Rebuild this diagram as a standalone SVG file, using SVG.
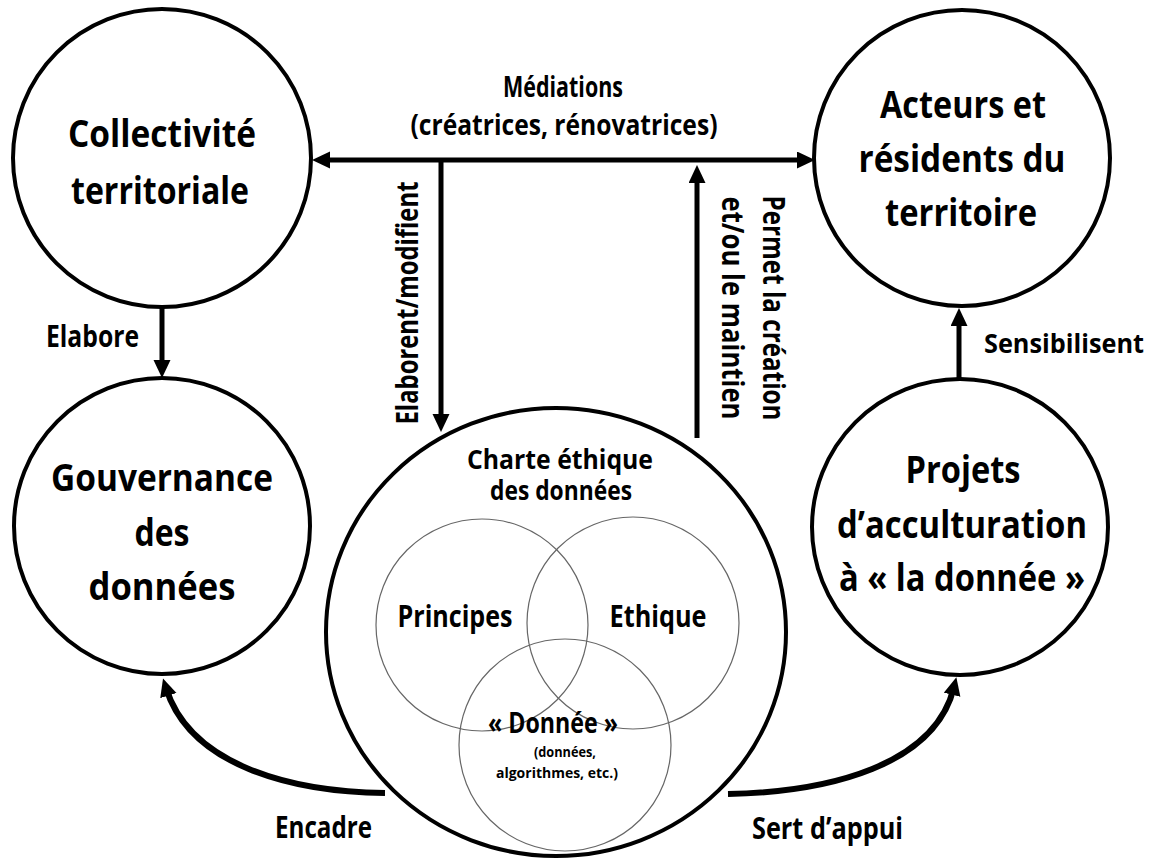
<svg xmlns="http://www.w3.org/2000/svg" width="1158" height="858" viewBox="0 0 1158 858">
<style>
.node{fill:#fff;stroke:#000;stroke-width:4}
.venn{fill:none;stroke:#666;stroke-width:1.2}
.t{font-family:'Open Sans','DejaVu Sans Condensed','DejaVu Sans',sans-serif;font-weight:bold;fill:#000;text-anchor:middle}
.big{font-size:37px}
.lab{font-size:30px}
.mid{font-size:28px}
.ch{font-size:26px}
.sm{font-size:15px}
.st{text-anchor:start}
.line{fill:none;stroke:#000;stroke-width:5}
.curve{fill:none;stroke:#000;stroke-width:6}
</style>
<defs>
<marker id="ah" markerUnits="userSpaceOnUse" markerWidth="20" markerHeight="18" refX="8" refY="8.5" orient="auto-start-reverse" viewBox="0 0 20 18">
<path d="M0,0 L18,8.5 L0,17 z" fill="#000"/>
</marker>
</defs>
<rect width="1158" height="858" fill="#fff"/>
<g id="collectivite">
<circle class="node" cx="162" cy="158" r="149"/>
<text class="t big" x="162" y="147" textLength="188" lengthAdjust="spacingAndGlyphs">Collectivité</text>
<text class="t big" x="160" y="204" textLength="178" lengthAdjust="spacingAndGlyphs">territoriale</text>
</g>
<g id="acteurs">
<circle class="node" cx="962" cy="158" r="148"/>
<text class="t big" x="963" y="118" textLength="166" lengthAdjust="spacingAndGlyphs">Acteurs et</text>
<text class="t big" x="962" y="172" textLength="207" lengthAdjust="spacingAndGlyphs">résidents du</text>
<text class="t big" x="961" y="226" textLength="152" lengthAdjust="spacingAndGlyphs">territoire</text>
</g>
<g id="gouvernance">
<circle class="node" cx="162" cy="526" r="148"/>
<text class="t big" x="162" y="491" textLength="222" lengthAdjust="spacingAndGlyphs">Gouvernance</text>
<text class="t big" x="162" y="546" textLength="55" lengthAdjust="spacingAndGlyphs">des</text>
<text class="t big" x="162" y="600" textLength="147" lengthAdjust="spacingAndGlyphs">données</text>
</g>
<g id="projets">
<circle class="node" cx="960" cy="527" r="148"/>
<text class="t big" x="963" y="483" textLength="115" lengthAdjust="spacingAndGlyphs">Projets</text>
<text class="t big" x="962" y="538" textLength="250" lengthAdjust="spacingAndGlyphs">d’acculturation</text>
<text class="t big" x="962" y="591" textLength="246" lengthAdjust="spacingAndGlyphs">à « la donnée »</text>
</g>
<g id="charte">
<ellipse class="node" cx="556" cy="632" rx="230" ry="224"/>
<text class="t ch" x="560" y="469" textLength="186" lengthAdjust="spacingAndGlyphs">Charte éthique</text>
<text class="t ch" x="561" y="500" textLength="142" lengthAdjust="spacingAndGlyphs">des données</text>
<g id="principes">
<circle class="venn" cx="482" cy="625" r="106"/>
<text class="t lab" x="455" y="627" textLength="115" lengthAdjust="spacingAndGlyphs">Principes</text>
</g>
<g id="ethique">
<circle class="venn" cx="633" cy="623" r="106"/>
<text class="t lab" x="658" y="627" textLength="97" lengthAdjust="spacingAndGlyphs">Ethique</text>
</g>
<g id="donnee">
<circle class="venn" cx="565" cy="745" r="106"/>
<text class="t mid" x="553" y="733" textLength="130" lengthAdjust="spacingAndGlyphs">« Donnée »</text>
<text class="t sm" x="565" y="757" textLength="62" lengthAdjust="spacingAndGlyphs">(données,</text>
<text class="t sm" x="557" y="778" textLength="122" lengthAdjust="spacingAndGlyphs">algorithmes, etc.)</text>
</g>
</g>
<g id="connectors">
<line class="line" x1="322" y1="160" x2="805" y2="160" marker-start="url(#ah)" marker-end="url(#ah)"/>
<line class="line" x1="441" y1="160" x2="441" y2="422" marker-end="url(#ah)"/>
<line class="line" x1="697" y1="438" x2="697" y2="175" marker-end="url(#ah)"/>
<line class="line" x1="162" y1="306" x2="162" y2="368" marker-end="url(#ah)"/>
<line class="line" x1="959" y1="379" x2="959" y2="318" marker-end="url(#ah)"/>
<path class="curve" d="M385,793 C290,792 190,765 166,688" marker-end="url(#ah)"/>
<path class="curve" d="M728,794 C830,792 935,765 954,687" marker-end="url(#ah)"/>
</g>
<g id="labels">
<text class="t mid" x="563" y="97" textLength="120" lengthAdjust="spacingAndGlyphs">Médiations</text>
<text class="t mid" x="564" y="135" textLength="307" lengthAdjust="spacingAndGlyphs">(créatrices, rénovatrices)</text>
<text class="t lab st" x="46" y="347" textLength="93" lengthAdjust="spacingAndGlyphs">Elabore</text>
<text class="t st" style="font-size:27px" x="984" y="353" textLength="160" lengthAdjust="spacingAndGlyphs">Sensibilisent</text>
<text class="t lab st" x="275" y="838" textLength="97" lengthAdjust="spacingAndGlyphs">Encadre</text>
<text class="t lab st" x="752" y="839" textLength="151" lengthAdjust="spacingAndGlyphs">Sert d’appui</text>
<text class="t lab" transform="translate(418,303) rotate(-90)" textLength="243" lengthAdjust="spacingAndGlyphs">Elaborent/modifient</text>
<text class="t lab" transform="translate(763,308) rotate(90)" textLength="225" lengthAdjust="spacingAndGlyphs">Permet la création</text>
<text class="t lab" transform="translate(722,308) rotate(90)" textLength="223" lengthAdjust="spacingAndGlyphs">et/ou le maintien</text>
</g>
</svg>
